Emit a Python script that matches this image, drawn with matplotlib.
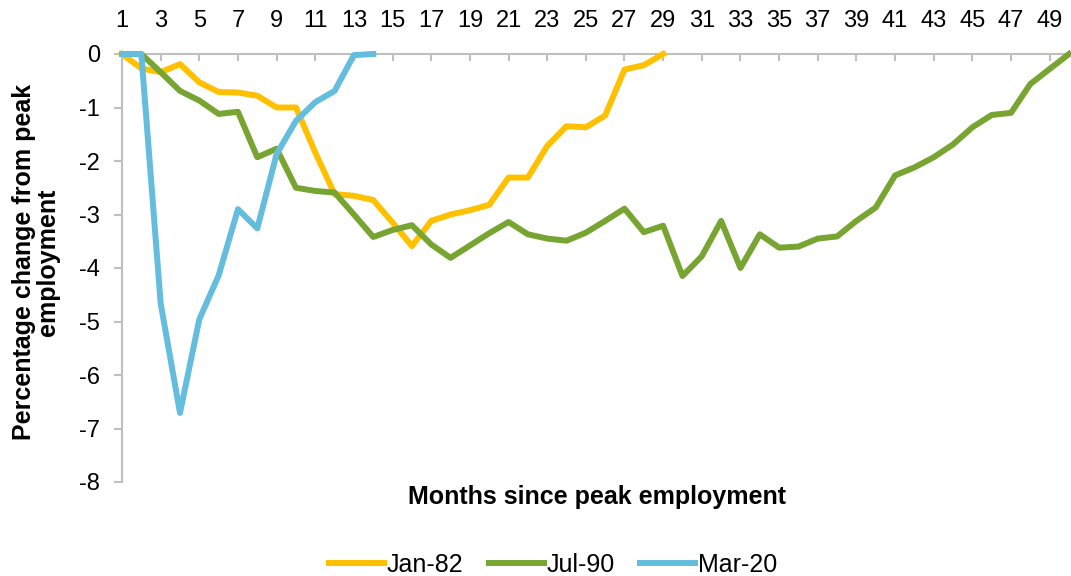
import matplotlib
matplotlib.use("Agg")
import matplotlib.pyplot as plt

months = list(range(1, 51))
tick_labels = [str(m) for m in range(1, 51, 2)]

jan82 = [0, -0.27, -0.34, -0.19, -0.53, -0.71, -0.72, -0.78, -1.0, -1.0,
         -1.84, -2.62, -2.65, -2.73, -3.15, -3.59, -3.12, -3.0, -2.92, -2.82,
         -2.31, -2.31, -1.72, -1.35, -1.37, -1.15, -0.29, -0.21, 0.0]
jul90 = [0, 0, -0.34, -0.69, -0.87, -1.12, -1.08, -1.93, -1.77, -2.50,
         -2.56, -2.59, -3.0, -3.42, -3.29, -3.20, -3.56, -3.81, -3.58, -3.35,
         -3.14, -3.37, -3.45, -3.49, -3.34, -3.12, -2.89, -3.33, -3.21, -4.15,
         -3.78, -3.12, -4.0, -3.37, -3.62, -3.60, -3.45, -3.41, -3.12, -2.87,
         -2.27, -2.12, -1.93, -1.69, -1.37, -1.14, -1.10, -0.56, -0.28, 0.0]
mar20 = [0, 0, -4.66, -6.71, -4.96, -4.14, -2.90, -3.26, -1.87, -1.25,
         -0.90, -0.69, -0.02, 0.0]

colors = {"Jan-82": "#FFC000", "Jul-90": "#78A532", "Mar-20": "#64BDDC"}

plt.rcParams['font.family'] = ['Liberation Sans', 'DejaVu Sans']

fig = plt.figure(figsize=(10.71, 5.76), dpi=100)
ax = fig.add_axes([122/1071, 94/576, (1069-122)/1071, (482-54)/576])

for name, vals in [("Jan-82", jan82), ("Jul-90", jul90), ("Mar-20", mar20)]:
    ax.plot(months[:len(vals)], vals, color=colors[name], lw=4.3, label=name,
            clip_on=False, zorder=3)

ax.set_xlim(1, 50)
ax.set_ylim(-8, 0)
ax.xaxis.tick_top()
ax.set_xticks(list(range(1, 51, 2)))
ax.set_xticklabels(tick_labels)
ax.set_yticks(range(-8, 1))
ax.set_yticklabels([str(v) for v in range(-8, 1)])

for s in ["right", "bottom"]:
    ax.spines[s].set_visible(False)
for s in ["top", "left"]:
    ax.spines[s].set_color("#BFBFBF")
    ax.spines[s].set_linewidth(1.5)
    ax.spines[s].set_zorder(1)

ax.tick_params(axis='x', direction='in', length=5, width=1.5, color="#BFBFBF",
               labelsize=17, pad=16)
ax.tick_params(axis='y', direction='out', length=6, width=1.5, color="#BFBFBF",
               labelsize=17, pad=10)

fig.text(36/1071, 1 - 262/576, "Percentage change from peak\nemployment",
         rotation=90, ha='center', va='center', fontsize=18, fontweight='bold',
         linespacing=0.95)
fig.text(597/1071, 1 - 497/576, "Months since peak employment",
         ha='center', va='center', fontsize=18, fontweight='bold')

fig.legend(loc='center', bbox_to_anchor=(553/1071, 1 - 565/576), ncol=3,
           frameon=False, fontsize=18, handlelength=2.2, handletextpad=0.12,
           columnspacing=1.0)

fig.savefig("out.png", dpi=100)
